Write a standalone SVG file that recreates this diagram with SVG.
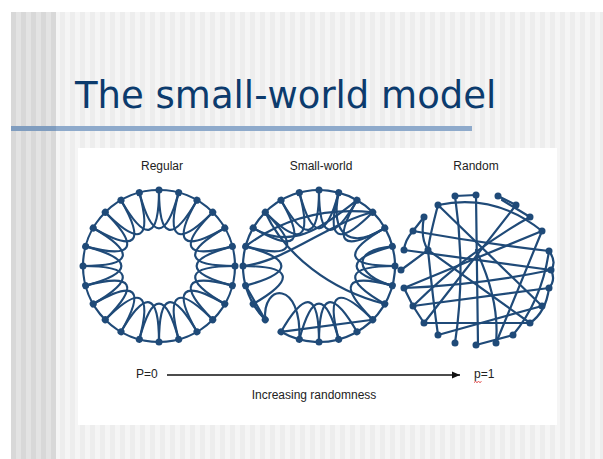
<svg xmlns="http://www.w3.org/2000/svg" xmlns:xlink="http://www.w3.org/1999/xlink" width="603" height="459" viewBox="0 0 603 459">
<style>
.lbl{font-family:"Liberation Sans",Arial,sans-serif;font-size:12px;fill:#222}
.net{fill:none;stroke:#1f4a78;stroke-width:2.2;stroke-linecap:round}
.dot{fill:#1f4a78}
.title{font-family:"DejaVu Sans",Verdana,sans-serif;font-size:37px;fill:#0c3b6d}
</style>
<defs>
<pattern id="lightStripes" x="0" y="0" width="10" height="10" patternUnits="userSpaceOnUse">
<rect width="10" height="10" fill="#f5f5f5"/>
<rect x="0" width="5" height="10" fill="#ededed"/>
</pattern>
<pattern id="darkStripes" x="1" y="0" width="10" height="10" patternUnits="userSpaceOnUse">
<rect width="10" height="10" fill="#e3e3e3"/>
<rect x="0" width="5" height="10" fill="#d8d8d8"/>
</pattern>
<path id="petal" d="M0,-76 C0,-26.6 13.3,-23.04 38,-65.82"/>
<circle id="dot" cx="0" cy="-76" r="3.5"/>
<marker id="arrow" markerWidth="9" markerHeight="8" refX="8" refY="4" orient="auto" markerUnits="userSpaceOnUse">
<path d="M0,0.5 L8,4 L0,7.5 z" fill="#111"/>
</marker>
</defs>

<g id="background">
<rect width="603" height="459" fill="#ffffff"/>
<rect x="11" y="12" width="592" height="447" fill="url(#lightStripes)"/>
<rect x="11" y="12" width="45" height="447" fill="url(#darkStripes)"/>
<rect x="11" y="126" width="461" height="5" fill="#8eaacb"/>
<rect x="11" y="126" width="45" height="5" fill="#809dbf"/>
<rect x="78" y="148" width="479" height="277" fill="#ffffff"/>
</g>

<text class="title" x="75" y="108">The small-world model</text>

<g id="regular">
<text class="lbl" x="162" y="170" text-anchor="middle">Regular</text>
<g id="regular-edges" class="net">
<circle cx="159" cy="266" r="76"/>
<use xlink:href="#petal" transform="translate(159 266) rotate(0)"/>
<use xlink:href="#petal" transform="translate(159 266) rotate(15)"/>
<use xlink:href="#petal" transform="translate(159 266) rotate(30)"/>
<use xlink:href="#petal" transform="translate(159 266) rotate(45)"/>
<use xlink:href="#petal" transform="translate(159 266) rotate(60)"/>
<use xlink:href="#petal" transform="translate(159 266) rotate(75)"/>
<use xlink:href="#petal" transform="translate(159 266) rotate(90)"/>
<use xlink:href="#petal" transform="translate(159 266) rotate(105)"/>
<use xlink:href="#petal" transform="translate(159 266) rotate(120)"/>
<use xlink:href="#petal" transform="translate(159 266) rotate(135)"/>
<use xlink:href="#petal" transform="translate(159 266) rotate(150)"/>
<use xlink:href="#petal" transform="translate(159 266) rotate(165)"/>
<use xlink:href="#petal" transform="translate(159 266) rotate(180)"/>
<use xlink:href="#petal" transform="translate(159 266) rotate(195)"/>
<use xlink:href="#petal" transform="translate(159 266) rotate(210)"/>
<use xlink:href="#petal" transform="translate(159 266) rotate(225)"/>
<use xlink:href="#petal" transform="translate(159 266) rotate(240)"/>
<use xlink:href="#petal" transform="translate(159 266) rotate(255)"/>
<use xlink:href="#petal" transform="translate(159 266) rotate(270)"/>
<use xlink:href="#petal" transform="translate(159 266) rotate(285)"/>
<use xlink:href="#petal" transform="translate(159 266) rotate(300)"/>
<use xlink:href="#petal" transform="translate(159 266) rotate(315)"/>
<use xlink:href="#petal" transform="translate(159 266) rotate(330)"/>
<use xlink:href="#petal" transform="translate(159 266) rotate(345)"/>
</g>
<g id="regular-nodes" class="dot">
<use xlink:href="#dot" transform="translate(159 266) rotate(0)"/>
<use xlink:href="#dot" transform="translate(159 266) rotate(15)"/>
<use xlink:href="#dot" transform="translate(159 266) rotate(30)"/>
<use xlink:href="#dot" transform="translate(159 266) rotate(45)"/>
<use xlink:href="#dot" transform="translate(159 266) rotate(60)"/>
<use xlink:href="#dot" transform="translate(159 266) rotate(75)"/>
<use xlink:href="#dot" transform="translate(159 266) rotate(90)"/>
<use xlink:href="#dot" transform="translate(159 266) rotate(105)"/>
<use xlink:href="#dot" transform="translate(159 266) rotate(120)"/>
<use xlink:href="#dot" transform="translate(159 266) rotate(135)"/>
<use xlink:href="#dot" transform="translate(159 266) rotate(150)"/>
<use xlink:href="#dot" transform="translate(159 266) rotate(165)"/>
<use xlink:href="#dot" transform="translate(159 266) rotate(180)"/>
<use xlink:href="#dot" transform="translate(159 266) rotate(195)"/>
<use xlink:href="#dot" transform="translate(159 266) rotate(210)"/>
<use xlink:href="#dot" transform="translate(159 266) rotate(225)"/>
<use xlink:href="#dot" transform="translate(159 266) rotate(240)"/>
<use xlink:href="#dot" transform="translate(159 266) rotate(255)"/>
<use xlink:href="#dot" transform="translate(159 266) rotate(270)"/>
<use xlink:href="#dot" transform="translate(159 266) rotate(285)"/>
<use xlink:href="#dot" transform="translate(159 266) rotate(300)"/>
<use xlink:href="#dot" transform="translate(159 266) rotate(315)"/>
<use xlink:href="#dot" transform="translate(159 266) rotate(330)"/>
<use xlink:href="#dot" transform="translate(159 266) rotate(345)"/>
</g>
</g>

<g id="small-world">
<text class="lbl" x="321" y="170" text-anchor="middle">Small-world</text>
<g id="small-world-edges" class="net">
<path d="M265.26,319.74 A76,76 0 1 1 281,331.82"/>
<use xlink:href="#petal" transform="translate(319 266) rotate(0)"/>
<use xlink:href="#petal" transform="translate(319 266) rotate(15)"/>
<use xlink:href="#petal" transform="translate(319 266) rotate(30)"/>
<use xlink:href="#petal" transform="translate(319 266) rotate(60)"/>
<use xlink:href="#petal" transform="translate(319 266) rotate(75)"/>
<use xlink:href="#petal" transform="translate(319 266) rotate(90)"/>
<use xlink:href="#petal" transform="translate(319 266) rotate(105)"/>
<use xlink:href="#petal" transform="translate(319 266) rotate(135)"/>
<use xlink:href="#petal" transform="translate(319 266) rotate(150)"/>
<use xlink:href="#petal" transform="translate(319 266) rotate(165)"/>
<use xlink:href="#petal" transform="translate(319 266) rotate(180)"/>
<use xlink:href="#petal" transform="translate(319 266) rotate(240)"/>
<use xlink:href="#petal" transform="translate(319 266) rotate(255)"/>
<use xlink:href="#petal" transform="translate(319 266) rotate(285)"/>
<use xlink:href="#petal" transform="translate(319 266) rotate(300)"/>
<use xlink:href="#petal" transform="translate(319 266) rotate(315)"/>
<use xlink:href="#petal" transform="translate(319 266) rotate(330)"/>
<use xlink:href="#petal" transform="translate(319 266) rotate(345)"/>
<path d="M245.59,246.33 Q300,205 372.74,212.26"/>
<path d="M243,266 C285,262 330,222 372.74,212.26"/>
<path d="M265.26,212.26 C285,255 330,290 384.82,304"/>
<path d="M281,331.82 L372.74,319.74"/>
<path d="M265.26,319.74 L253.18,304"/>
<path d="M245.59,285.67 L265.26,319.74"/>
<path d="M265.26,319.74 C262,283 302,280 299.33,339.41"/>
<path d="M338.67,192.59 C330,235 350,250 384.82,228"/>
<path d="M392.41,246.33 C350,250 355,275 392.41,285.67"/>
<path d="M253.18,228 C290,250 320,230 357,200.18"/>
</g>
<g id="small-world-nodes" class="dot">
<use xlink:href="#dot" transform="translate(319 266) rotate(0)"/>
<use xlink:href="#dot" transform="translate(319 266) rotate(15)"/>
<use xlink:href="#dot" transform="translate(319 266) rotate(30)"/>
<use xlink:href="#dot" transform="translate(319 266) rotate(45)"/>
<use xlink:href="#dot" transform="translate(319 266) rotate(60)"/>
<use xlink:href="#dot" transform="translate(319 266) rotate(75)"/>
<use xlink:href="#dot" transform="translate(319 266) rotate(90)"/>
<use xlink:href="#dot" transform="translate(319 266) rotate(105)"/>
<use xlink:href="#dot" transform="translate(319 266) rotate(120)"/>
<use xlink:href="#dot" transform="translate(319 266) rotate(135)"/>
<use xlink:href="#dot" transform="translate(319 266) rotate(150)"/>
<use xlink:href="#dot" transform="translate(319 266) rotate(165)"/>
<use xlink:href="#dot" transform="translate(319 266) rotate(180)"/>
<use xlink:href="#dot" transform="translate(319 266) rotate(195)"/>
<use xlink:href="#dot" transform="translate(319 266) rotate(210)"/>
<use xlink:href="#dot" transform="translate(319 266) rotate(225)"/>
<use xlink:href="#dot" transform="translate(319 266) rotate(240)"/>
<use xlink:href="#dot" transform="translate(319 266) rotate(255)"/>
<use xlink:href="#dot" transform="translate(319 266) rotate(270)"/>
<use xlink:href="#dot" transform="translate(319 266) rotate(285)"/>
<use xlink:href="#dot" transform="translate(319 266) rotate(300)"/>
<use xlink:href="#dot" transform="translate(319 266) rotate(315)"/>
<use xlink:href="#dot" transform="translate(319 266) rotate(330)"/>
<use xlink:href="#dot" transform="translate(319 266) rotate(345)"/>
</g>
</g>

<g id="random">
<text class="lbl" x="476" y="170" text-anchor="middle">Random</text>
<g id="random-edges" class="net">
<path d="M455,196 L476,195"/>
<path d="M476,195 L478,345"/>
<path d="M498,196 L516,205"/>
<path d="M502,200 L530,217"/>
<path d="M438,205 Q495,193 542,231"/>
<path d="M455,196 Q466,270 455,343"/>
<path d="M424,217 Q420,238 428,250 Q433,300 438,335"/>
<path d="M413,231 Q480,243 549,251"/>
<path d="M404,250 L551,270"/>
<path d="M401,270 L428,250"/>
<path d="M404,288 L542,231"/>
<path d="M413,306 L549,288"/>
<path d="M424,323 L530,323"/>
<path d="M438,335 L542,306"/>
<path d="M496,343 L542,231"/>
<path d="M513,335 Q542,300 549,251"/>
<path d="M476,345 L513,335"/>
<path d="M516,205 L424,323"/>
<path d="M438,205 L542,306"/>
<path d="M424,217 L413,231"/>
<path d="M413,231 Q405,240 404,250"/>
<path d="M549,251 Q557,262 551,270 Q556,280 549,288"/>
<path d="M549,288 Q546,312 530,323"/>
<path d="M413,306 L424,323"/>
<path d="M404,288 L413,306"/>
<path d="M428,250 L530,323"/>
<path d="M530,217 Q470,250 413,306"/>
<path d="M438,205 Q430,235 428,250"/>
<path d="M404,288 Q480,285 551,270"/>
<path d="M496,343 Q500,300 476,250"/>
</g>
<g id="random-nodes" class="dot">
<circle cx="455" cy="196" r="3.5"/>
<circle cx="476" cy="195" r="3.5"/>
<circle cx="498" cy="196" r="3.5"/>
<circle cx="516" cy="205" r="3.5"/>
<circle cx="530" cy="217" r="3.5"/>
<circle cx="438" cy="205" r="3.5"/>
<circle cx="424" cy="217" r="3.5"/>
<circle cx="413" cy="231" r="3.5"/>
<circle cx="542" cy="231" r="3.5"/>
<circle cx="404" cy="250" r="3.5"/>
<circle cx="428" cy="250" r="3.5"/>
<circle cx="549" cy="251" r="3.5"/>
<circle cx="401" cy="270" r="3.5"/>
<circle cx="551" cy="270" r="3.5"/>
<circle cx="404" cy="288" r="3.5"/>
<circle cx="549" cy="288" r="3.5"/>
<circle cx="413" cy="306" r="3.5"/>
<circle cx="542" cy="306" r="3.5"/>
<circle cx="424" cy="323" r="3.5"/>
<circle cx="530" cy="323" r="3.5"/>
<circle cx="438" cy="335" r="3.5"/>
<circle cx="513" cy="335" r="3.5"/>
<circle cx="455" cy="343" r="3.5"/>
<circle cx="476" cy="345" r="3.5"/>
<circle cx="496" cy="343" r="3.5"/>
</g>
</g>

<g id="axis">
<line x1="167" y1="375" x2="460" y2="375" stroke="#111" stroke-width="1.3" marker-end="url(#arrow)"/>
<text class="lbl" x="136" y="378">P=0</text>
<text class="lbl" x="474" y="378">p=1</text>
<path d="M474,382.5 l1.5,-1 l1.5,1 l1.5,-1 l1.5,1 l1.5,-1" fill="none" stroke="#d33" stroke-width="0.9"/>
<text class="lbl" x="314" y="399" text-anchor="middle">Increasing randomness</text>
</g>
</svg>
